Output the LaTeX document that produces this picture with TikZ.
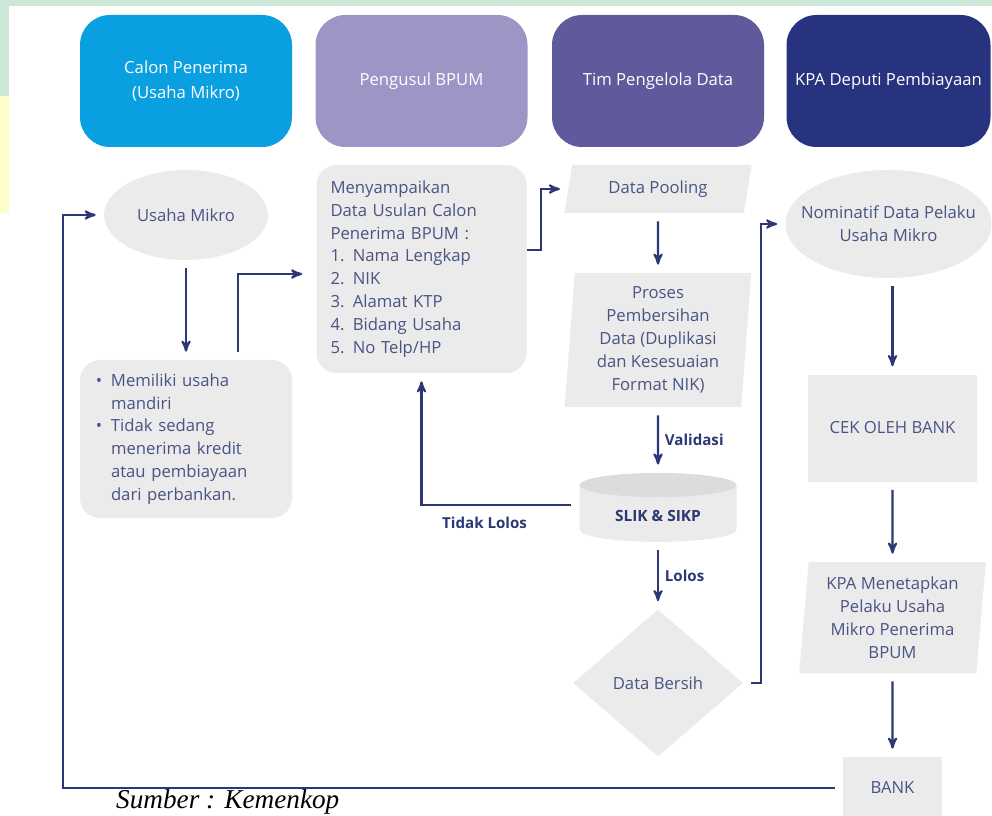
\documentclass[tikz,border=0pt]{standalone}
\usepackage{fontspec}
\setmainfont{Open Sans}
\newfontfamily\sumberfont{Liberation Serif}
\usepackage{tikz}
\usetikzlibrary{shapes.geometric,arrows,positioning,calc}
\definecolor{calon}{HTML}{0A9FE0}
\definecolor{pengusul}{HTML}{9B96C6}
\definecolor{timdata}{HTML}{5E5A9C}
\definecolor{deputi}{HTML}{27337F}
\definecolor{abu}{HTML}{EBEBEB}
\definecolor{abutua}{HTML}{DCDCDC}
\definecolor{teks}{HTML}{4A5384}
\definecolor{garis}{HTML}{2B3875}
\definecolor{mint}{HTML}{CBE8D7}
\definecolor{kuning}{HTML}{FFFDCB}
\newcommand{\isi}{\fontsize{9.5}{13}\selectfont}
\newcommand{\butir}{\leavevmode\llap{\textbullet\hspace{5pt}}}
\tikzstyle{head} = [rectangle, rounded corners=0.6cm, text=white, align=center, minimum width=4.24cm, minimum height=2.64cm, font=\fontsize{9.5}{14}\selectfont]
\tikzstyle{block} = [rectangle, fill=abu, rounded corners=0.4cm, text=teks, align=left, font=\isi]
\tikzstyle{oval} = [ellipse, fill=abu, text=teks, align=center, inner sep=0pt, font=\isi]
\tikzstyle{io} = [trapezium, trapezium stretches=true, fill=abu, text=teks, align=center, minimum width=3.76cm, font=\isi]
\tikzstyle{kotak} = [rectangle, fill=abu, text=teks, align=center, font=\isi]
\tikzstyle{db} = [cylinder, shape border rotate=90, aspect=0.25, minimum width=3.14cm, minimum height=1.38cm, cylinder uses custom fill, cylinder body fill=abu, cylinder end fill=abutua, text=garis, font=\bfseries\fontsize{8.8}{10}\selectfont]
\tikzstyle{decision} = [diamond, fill=abu, text=teks, minimum width=3.4cm, minimum height=2.94cm, inner sep=0pt, font=\isi]
\tikzstyle{line} = [draw=garis, line width=1.2pt, shorten <=0.16cm, shorten >=0.16cm]
\tikzstyle{lbl} = [text=garis, font=\bfseries\fontsize{8.6}{10}\selectfont]

\begin{document}
\begin{tikzpicture}[auto, node distance=2cm, >=stealth']
    \useasboundingbox (0,0) rectangle (19.84,-16.32);
    \fill[mint] (0,0) rectangle (19.84,-0.12);
    \fill[mint] (0,0) rectangle (0.18,-1.92);
    \fill[kuning] (0,-1.92) rectangle (0.18,-4.26);

    \node[head, fill=calon] (h1) at (3.72,-1.62) {Calon Penerima\\(Usaha Mikro)};
    \node[head, fill=pengusul, right of=h1, node distance=4.71cm] (h2) {Pengusul BPUM};
    \node[head, fill=timdata, right of=h2, node distance=4.73cm] (h3) {Tim Pengelola Data};
    \node[head, fill=deputi, right of=h3, node distance=4.61cm, minimum width=4.08cm] (h4) {KPA Deputi Pembiayaan};

    \node[oval, below of=h1, node distance=2.68cm, minimum width=3.28cm, minimum height=1.8cm] (usaha) {Usaha Mikro};
    \node[block, below of=usaha, node distance=4.48cm, minimum width=4.24cm, minimum height=3.16cm, text width=3cm] (syarat)
        {\butir Memiliki usaha\\mandiri\\\butir Tidak sedang\\menerima kredit\\atau pembiayaan\\dari perbankan.};

    \node[block, below of=h2, node distance=3.76cm, minimum width=4.2cm, minimum height=4.16cm, text width=3.64cm] (usulan)
        {Menyampaikan\\Data Usulan Calon\\Penerima BPUM :\\1. Nama Lengkap\\2. NIK\\3. Alamat KTP\\4. Bidang Usaha\\5. No Telp/HP};

    \node[io, below of=h3, node distance=2.16cm, minimum height=0.96cm, trapezium left angle=80, trapezium right angle=100] (pool) {Data Pooling};
    \node[io, below of=pool, node distance=3.02cm, minimum height=2.68cm, trapezium left angle=86, trapezium right angle=94] (proses)
        {Proses\\Pembersihan\\Data (Duplikasi\\dan Kesesuaian\\Format NIK)};
    \node[db, below of=proses, node distance=3.52cm] (slik) {SLIK \& SIKP};
    \node[decision, below of=slik, node distance=3.34cm] (bersih) {Data Bersih};

    \node[oval, below of=h4, node distance=2.86cm, minimum width=4.12cm, minimum height=2.16cm, inner xsep=-0.3cm] (nominatif) {Nominatif Data Pelaku\\Usaha Mikro};
    \node[kotak, below of=nominatif, node distance=4.08cm, xshift=0.08cm, minimum width=3.38cm, minimum height=2.14cm] (cek) {CEK OLEH BANK};
    \node[io, below of=cek, node distance=3.79cm, minimum height=2.22cm, trapezium left angle=85, trapezium right angle=95] (kpa)
        {KPA Menetapkan\\Pelaku Usaha\\Mikro Penerima\\BPUM};
    \node[kotak, below of=kpa, node distance=3.41cm, minimum width=1.98cm, minimum height=1.24cm] (bank) {BANK};

    \node[anchor=base west, font=\sumberfont\itshape\fontsize{15.5}{18}\selectfont] (sumber) at (2.2,-16.16) {Sumber : Kemenkop};

    \draw[line, ->] (usaha) -- (syarat);
    \draw[line, shorten >=0.28cm, ->] ([xshift=1.04cm]syarat.north) |- ([yshift=-0.1cm]usulan.west);
    \draw[line, shorten <=0pt, ->] ([yshift=0.38cm]usulan.east) -- ++(0.28,0) |- (pool.west);
    \draw[line, ->] (pool) -- (proses);
    \draw[line, ->] (proses) -- node[lbl] {Validasi} (slik);
    \draw[line, ->] (slik) -- node[lbl] {Lolos} (bersih);
    \draw[line, ->] ([yshift=0.22cm]slik.west) -| node[lbl, pos=0.3, yshift=-0.1cm] {Tidak Lolos} (usulan.south);
    \draw[line, ->] (bersih.east) -- ++(0.36,0) |- (nominatif.west);
    \draw[line, ->] (nominatif.south -| cek.north) -- (cek.north);
    \draw[line, ->] (cek) -- (kpa);
    \draw[line, ->] (kpa) -- (bank);
    \draw[line, ->] (bank.west) -- ++(-15.6,0) |- (usaha.west);
\end{tikzpicture}
\end{document}
